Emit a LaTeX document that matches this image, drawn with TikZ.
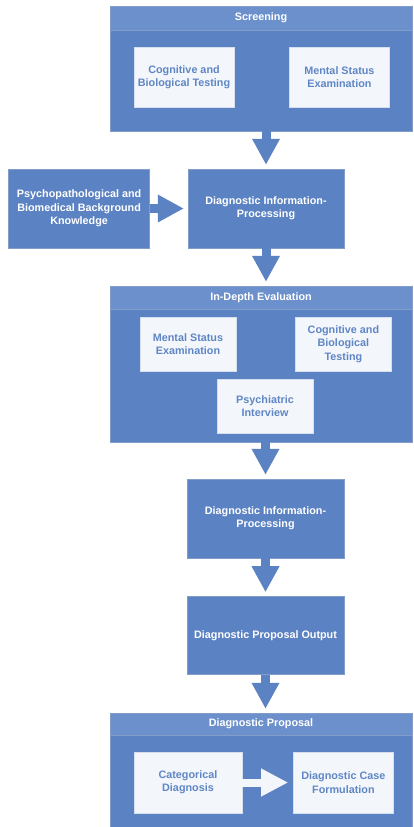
\documentclass[tikz,border=0pt]{standalone}
\usepackage{fontspec}
\setmainfont{Liberation Sans}
\usetikzlibrary{positioning,arrows.meta}
\definecolor{dxblue}{HTML}{5B82C3}
\definecolor{dxhead}{HTML}{6C90CC}
\definecolor{dxedge}{HTML}{4E73B2}
\definecolor{dxpale}{HTML}{F3F6FB}
\definecolor{dxtext}{HTML}{5F86C5}

\begin{document}
\begin{tikzpicture}[
  x=1pt, y=-1pt,
  font=\fontsize{10.8}{13.4}\selectfont\bfseries,
  box/.style={draw=dxedge!70, fill=dxblue, text=white, align=center, inner sep=2pt},
  panel/.style={box, text=white},
  head/.style={box, fill=dxhead, anchor=north},
  item/.style={draw=dxpale!80!dxblue, fill=dxpale, text=dxtext, align=center, inner sep=2pt},
  blk/.style={line width=9pt, draw=dxblue, -{Triangle[length=26pt,width=26pt]}, shorten >=4pt},
  wblk/.style={line width=8pt, draw=dxpale, -{Triangle[length=27pt,width=26pt]}, shorten >=5pt}
]
\useasboundingbox (0,0) rectangle (413,827);

% screening
\node[panel, minimum width=302pt, minimum height=125pt] (scr) at (261,68.5) {};
\node[head, minimum width=302pt, minimum height=24pt] (scrh) at (scr.north) {Screening};
\node[item, minimum width=100pt, minimum height=60pt] (cog1) at (184,77) {Cognitive and\\Biological Testing};
\node[item, minimum width=100pt, minimum height=60pt, right=55pt of cog1] (mse1) {Mental Status\\Examination};

% first processing step with background knowledge
\node[box, minimum width=156pt, minimum height=79pt] (dip1) at (266,208.5) {Diagnostic Information-\\Processing};
\node[box, minimum width=141pt, minimum height=79pt, left=38pt of dip1] (bg) {Psychopathological and\\Biomedical Background\\Knowledge};

% in-depth evaluation
\node[panel, minimum width=302pt, minimum height=156pt] (ide) at (261,364) {};
\node[head, minimum width=302pt, minimum height=23pt] (ideh) at (ide.north) {In-Depth Evaluation};
\node[item, minimum width=96pt, minimum height=54pt] (mse2) at (188,344) {Mental Status\\Examination};
\node[item, minimum width=96pt, minimum height=54pt, right=59pt of mse2] (cog2) {Cognitive and\\Biological\\Testing};
\node[item, minimum width=96pt, minimum height=54pt] (psy) at (265,406) {Psychiatric\\Interview};

% second processing step and output
\node[box, minimum width=157pt, minimum height=79pt] (dip2) at (265.5,518.5) {Diagnostic Information-\\Processing};
\node[box, minimum width=157pt, minimum height=78pt, below=38pt of dip2] (out) {Diagnostic Proposal Output};

% diagnostic proposal
\node[panel, minimum width=302pt, minimum height=114pt] (prop) at (261,770) {};
\node[head, minimum width=302pt, minimum height=22pt] (proph) at (prop.north) {Diagnostic Proposal};
\node[item, minimum width=108pt, minimum height=61pt] (cat) at (188,782.5) {Categorical\\Diagnosis};
\node[item, minimum width=100pt, minimum height=61pt, right=51pt of cat] (dcf) {Diagnostic Case\\Formulation};

% block arrows
\draw[blk] (dip1.north |- scr.south) -- (dip1.north);
\draw[blk] (bg.east) -- (dip1.west);
\draw[blk] (dip1.south) -- (dip1.south |- ide.north);
\draw[blk] (dip2.north |- ide.south) -- (dip2.north);
\draw[blk] (dip2.south) -- (out.north);
\draw[blk] (out.south) -- (out.south |- prop.north);
\draw[wblk] (cat.east) -- (dcf.west);
\end{tikzpicture}
\end{document}
